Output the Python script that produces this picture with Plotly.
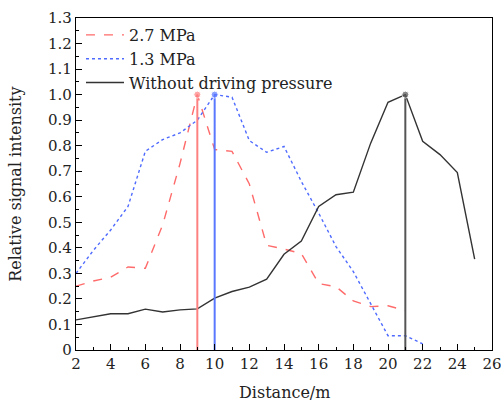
import plotly.graph_objects as go

# distances (m)
dist_27 = list(range(2, 22))
dist_13 = list(range(2, 23))
dist_0 = list(range(2, 26))

# relative signal intensity
sig_27 = [0.25, 0.27, 0.285, 0.325, 0.32, 0.49, 0.73, 1.0, 0.785, 0.778, 0.65,
          0.41, 0.395, 0.378, 0.26, 0.248, 0.192, 0.17, 0.173, 0.155]
sig_13 = [0.30, 0.39, 0.47, 0.562, 0.778, 0.824, 0.85, 0.90, 1.0, 0.99, 0.82,
          0.774, 0.797, 0.66, 0.536, 0.405, 0.307, 0.18, 0.056, 0.056, 0.024]
sig_0 = [0.118, 0.13, 0.142, 0.142, 0.16, 0.149, 0.157, 0.161, 0.203, 0.229,
         0.246, 0.277, 0.375, 0.427, 0.562, 0.608, 0.618, 0.81, 0.97, 1.0,
         0.817, 0.765, 0.695, 0.356]

names = ["2.7 MPa", "1.3 MPa", "Without driving pressure"]
colors = ["#ff6b6b", "#4f6bff", "#333333"]
peak_colors = ["#ff8080", "#5a78ff", "#555555"]
dashes = ["dash", "dot", "solid"]

FONT = "DejaVu Serif"
TXT = "#222222"

fig = go.Figure()
series = [(dist_27, sig_27), (dist_13, sig_13), (dist_0, sig_0)]
for (xs, ys), nm, c, d in zip(series, names, colors, dashes):
    fig.add_trace(go.Scatter(x=xs, y=ys, mode="lines", name=nm,
                             line=dict(color=c, dash=d, width=1.4)))

# vertical line at the peak of each curve
for (xs, ys), c in zip(series, peak_colors):
    i = ys.index(max(ys))
    fig.add_trace(go.Scatter(x=[xs[i], xs[i]], y=[0, ys[i]], mode="lines+markers",
                             line=dict(color=c, width=2),
                             marker=dict(size=[0, 7], color=c),
                             showlegend=False, hoverinfo="skip"))

axis_common = dict(showline=True, linecolor="black", linewidth=1.2, mirror=True,
                   ticks="inside", ticklen=6, tickcolor="black", showgrid=False,
                   zeroline=False, automargin=False, ticklabeloverflow="allow",
                   tickfont=dict(family=FONT, size=15, color=TXT))

fig.update_xaxes(range=[2, 26], dtick=2,
                 minor=dict(ticks="inside", ticklen=3, dtick=1, tickcolor="black"),
                 **axis_common)
fig.update_yaxes(range=[0, 1.3],
                 tickvals=[0, 0.1, 0.2, 0.3, 0.4, 0.5, 0.6, 0.7, 0.8, 0.9, 1.0, 1.1, 1.2, 1.3],
                 ticktext=["0", "0.1", "0.2", "0.3", "0.4", "0.5", "0.6", "0.7", "0.8",
                           "0.9", "1.0", "1.1", "1.2", "1.3"],
                 minor=dict(ticks="inside", ticklen=3, dtick=0.05, tickcolor="black"),
                 **axis_common)

# axis titles placed as annotations
fig.add_annotation(text="Distance/m", xref="paper", yref="paper", x=0.5, y=-0.127,
                   xanchor="center", yanchor="middle", showarrow=False,
                   font=dict(family=FONT, size=16, color=TXT))
fig.add_annotation(text="Relative signal intensity", xref="paper", yref="paper",
                   x=-0.147, y=0.5, xanchor="center", yanchor="middle", textangle=-90,
                   showarrow=False, font=dict(family=FONT, size=16, color=TXT))

fig.update_layout(
    width=501, height=404,
    margin=dict(l=76, r=9, t=18, b=54),
    plot_bgcolor="white", paper_bgcolor="white",
    font=dict(family=FONT, size=15, color=TXT),
    legend=dict(x=0.012, y=1.0, xanchor="left", yanchor="top",
                bgcolor="rgba(0,0,0,0)", itemwidth=38,
                font=dict(family=FONT, size=16, color=TXT),
                tracegroupgap=0),
    showlegend=True,
)

fig.write_html("out.html", config={"displayModeBar": False},
               post_script="document.body.style.margin='0';")
